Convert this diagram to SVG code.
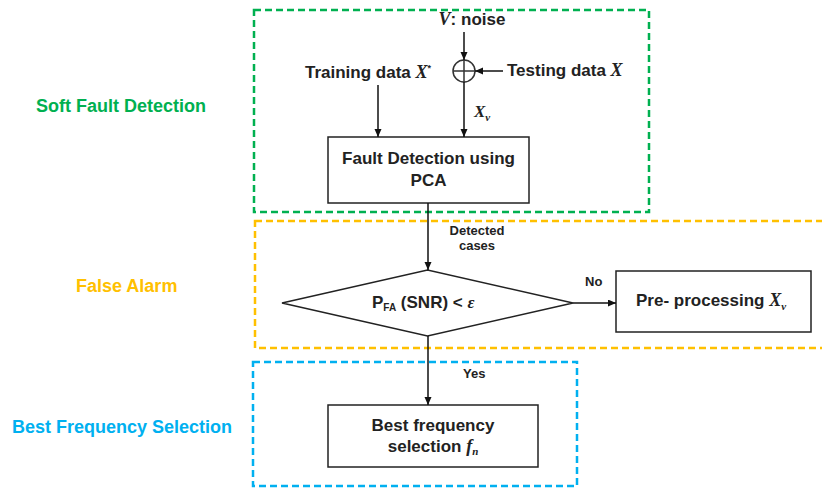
<svg xmlns="http://www.w3.org/2000/svg" width="822" height="488" viewBox="0 0 822 488">
<style>
.t{font-family:"Liberation Sans",Arial,sans-serif;font-weight:bold;font-size:17px;fill:#222}
.s{font-family:"Liberation Sans",Arial,sans-serif;font-weight:bold;font-size:13px;fill:#222}
.m{font-family:"Liberation Serif","Times New Roman",serif;font-style:italic;font-weight:bold}
.lab{font-family:"Liberation Sans",Arial,sans-serif;font-weight:bold;font-size:18px}
.box{fill:#fff;stroke:#222;stroke-width:1.5}
.grp{fill:none;stroke-width:2.5;stroke-dasharray:7 4}
.c{fill:none;stroke:#111;stroke-width:1.5}
</style>
<defs>
<marker id="ah" markerUnits="userSpaceOnUse" markerWidth="9" markerHeight="8" refX="8" refY="3.5" orient="auto">
<path d="M0,0 L8,3.5 L0,7 z" fill="#111"/>
</marker>
</defs>
<rect width="822" height="488" fill="#fff"/>

<g id="group-soft">
<rect class="grp" x="254" y="10" width="395" height="202" stroke="#00b050"/>
<text class="lab" x="36" y="112" fill="#00b050" font-size="18.5">Soft Fault Detection</text>
</g>
<g id="group-false">
<rect class="grp" x="255" y="221" width="580" height="127" stroke="#ffc000"/>
<text class="lab" x="76" y="292" fill="#ffc000">False Alarm</text>
</g>
<g id="group-best">
<rect class="grp" x="253" y="362" width="324" height="124" stroke="#00b0f0"/>
<text class="lab" x="12" y="433" fill="#00b0f0" font-size="18.5">Best Frequency  Selection</text>
</g>

<g id="noise">
<text class="t" x="472" y="25" text-anchor="middle"><tspan class="m" font-size="18">V</tspan>: noise</text>
</g>
<g id="training">
<text class="t" x="305" y="78">Training data <tspan class="m" font-size="18">X</tspan><tspan font-size="9" dy="-7">*</tspan></text>
</g>
<g id="testing">
<text class="t" x="507" y="76">Testing data <tspan class="m" font-size="18">X</tspan></text>
</g>
<g id="sum">
<circle cx="464" cy="71" r="11" fill="#fff" stroke="#333" stroke-width="1.5"/>
<path d="M453,71 H475 M464,60 V82" stroke="#333" stroke-width="1.5"/>
</g>
<g id="fault">
<rect class="box" x="328" y="137" width="201" height="66"/>
<text class="t" x="428.5" y="164" text-anchor="middle">Fault Detection using</text>
<text class="t" x="428.5" y="186" text-anchor="middle">PCA</text>
</g>
<g id="decision">
<polygon class="box" points="282,303 427.5,270 573,303 427.5,336"/>
<text class="t" x="372" y="308">P<tspan font-size="10" dy="3">FA</tspan><tspan dy="-3"> (SNR) &lt; </tspan><tspan class="m">ε</tspan></text>
</g>
<g id="preproc">
<rect class="box" x="616" y="271" width="195" height="61"/>
<text class="t" x="636" y="306">Pre- processing <tspan class="m" font-size="18">X</tspan><tspan class="m" font-size="11" dy="4">v</tspan></text>
</g>
<g id="bestfreq">
<rect class="box" x="328" y="405" width="210" height="62"/>
<text class="t" x="433" y="431" text-anchor="middle">Best frequency</text>
<text class="t" x="433" y="452" text-anchor="middle">selection <tspan class="m" font-size="18">f</tspan><tspan class="m" font-size="11" dy="3">n</tspan></text>
</g>

<g id="connectors">
<line class="c" x1="464" y1="32" x2="464" y2="60" marker-end="url(#ah)"/>
<line class="c" x1="503" y1="71" x2="475" y2="71" marker-end="url(#ah)"/>
<line class="c" x1="378" y1="85" x2="378" y2="137" marker-end="url(#ah)"/>
<line class="c" x1="464" y1="82" x2="464" y2="137" marker-end="url(#ah)"/>
<text class="t m" x="474" y="117" font-size="18">X<tspan font-size="11" dy="4">v</tspan></text>
<line class="c" x1="428" y1="203" x2="428" y2="270" marker-end="url(#ah)"/>
<text class="s" x="477" y="235" text-anchor="middle">Detected</text>
<text class="s" x="477" y="250" text-anchor="middle">cases</text>
<line class="c" x1="573" y1="303" x2="616" y2="303" marker-end="url(#ah)"/>
<text class="s" x="585" y="286">No</text>
<line class="c" x1="428" y1="336" x2="428" y2="405" marker-end="url(#ah)"/>
<text class="s" x="463" y="378">Yes</text>
</g>
</svg>
